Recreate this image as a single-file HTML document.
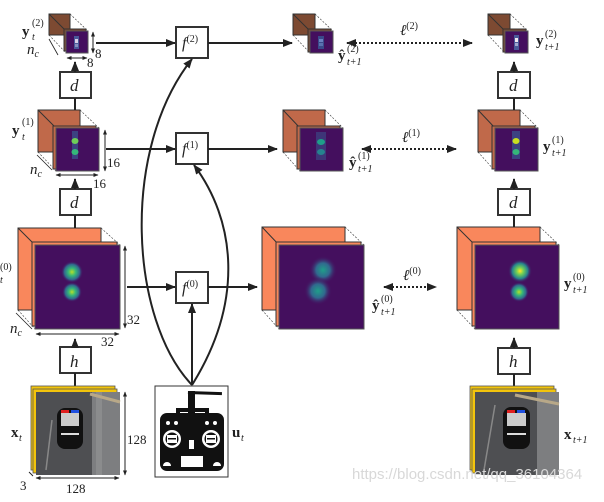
<!DOCTYPE html>
<html><head><meta charset="utf-8"><style>
html,body{margin:0;padding:0;background:#fff;}
svg{display:block;}
text{font-family:"Liberation Serif",serif;fill:#222;}
.it{font-style:italic;}
.b{font-weight:bold;}
</style></head><body>
<svg width="604" height="502" viewBox="0 0 604 502" xmlns="http://www.w3.org/2000/svg">
<defs>
<marker id="ah" viewBox="0 0 10 10" refX="9" refY="5" markerWidth="5" markerHeight="5" orient="auto-start-reverse"><path d="M0,1 L10,5 L0,9 z" fill="#222"/></marker>
<radialGradient id="g1"><stop offset="0" stop-color="#b5de2b"/><stop offset="0.35" stop-color="#35b779"/><stop offset="0.7" stop-color="#31688e"/><stop offset="1" stop-color="#440f5e" stop-opacity="0"/></radialGradient>
<radialGradient id="g2"><stop offset="0" stop-color="#1f9e89"/><stop offset="0.5" stop-color="#31688e"/><stop offset="1" stop-color="#440f5e" stop-opacity="0"/></radialGradient>
<radialGradient id="g3"><stop offset="0" stop-color="#fde725"/><stop offset="0.3" stop-color="#6ece58"/><stop offset="0.65" stop-color="#26828e"/><stop offset="1" stop-color="#440f5e" stop-opacity="0"/></radialGradient>
</defs>

<!-- ===== Level 2 cubes ===== -->
<g stroke="#333" stroke-width="1">
<rect x="49" y="14" width="21" height="21" fill="#7d4a32"/>
<line x1="49" y1="14" x2="66" y2="31"/>
<line x1="70" y1="14" x2="88" y2="31" stroke-dasharray="2,1.5" stroke-width="0.6"/>
<line x1="49" y1="35" x2="66" y2="53" stroke-dasharray="2,1.5" stroke-width="0.6"/>
<rect x="64" y="29" width="22" height="22" fill="#7d4a32"/>
<rect x="66" y="31" width="22" height="22" fill="#440f5e" stroke="#555"/>
<rect x="293" y="14" width="22" height="21" fill="#7d4a32"/>
<line x1="293" y1="14" x2="310" y2="31"/>
<line x1="315" y1="14" x2="333" y2="31" stroke-dasharray="2,1.5" stroke-width="0.6"/>
<line x1="293" y1="35" x2="310" y2="53" stroke-dasharray="2,1.5" stroke-width="0.6"/>
<rect x="308" y="29" width="23" height="23" fill="#7d4a32"/>
<rect x="310" y="31" width="23" height="22" fill="#440f5e" stroke="#555"/>
<rect x="488" y="14" width="22" height="21" fill="#7d4a32"/>
<line x1="488" y1="14" x2="505" y2="31"/>
<line x1="510" y1="14" x2="528" y2="31" stroke-dasharray="2,1.5" stroke-width="0.6"/>
<line x1="488" y1="35" x2="505" y2="53" stroke-dasharray="2,1.5" stroke-width="0.6"/>
<rect x="503" y="29" width="23" height="23" fill="#7d4a32"/>
<rect x="505" y="31" width="23" height="22" fill="#440f5e" stroke="#555"/>
</g>
<rect x="74" y="36" width="5" height="13" fill="#4a5a9a"/><rect x="75" y="39" width="3" height="4" fill="#d8d0e8"/><rect x="75" y="44" width="3" height="3" fill="#8890c0"/>
<rect x="318" y="36" width="6" height="13" fill="#3a4a8a"/><rect x="319" y="39" width="4" height="3" fill="#6a80c0"/><rect x="319" y="43" width="4" height="3" fill="#5a70b0"/>
<rect x="514" y="35" width="5" height="15" fill="#4a5a9a"/><rect x="515" y="38" width="3" height="4" fill="#f0e8f0"/><rect x="515" y="43" width="3" height="3" fill="#a0a8d0"/>

<!-- ===== Level 1 cubes ===== -->
<g stroke="#333" stroke-width="1">
<rect x="38" y="110" width="42" height="42" fill="#c0694a"/>
<line x1="38" y1="110" x2="56" y2="128"/>
<line x1="80" y1="110" x2="99" y2="128" stroke-dasharray="2,1.5" stroke-width="0.6"/>
<line x1="38" y1="152" x2="56" y2="171" stroke-dasharray="2,1.5" stroke-width="0.6"/>
<rect x="53" y="126" width="43" height="43" fill="#c0694a"/>
<rect x="56" y="128" width="43" height="43" fill="#440f5e" stroke="#555"/>
<rect x="283" y="110" width="42" height="42" fill="#c0694a"/>
<line x1="283" y1="110" x2="300" y2="128"/>
<line x1="325" y1="110" x2="343" y2="128" stroke-dasharray="2,1.5" stroke-width="0.6"/>
<line x1="283" y1="152" x2="300" y2="171" stroke-dasharray="2,1.5" stroke-width="0.6"/>
<rect x="297" y="126" width="43" height="43" fill="#c0694a"/>
<rect x="300" y="128" width="43" height="43" fill="#440f5e" stroke="#555"/>
<rect x="478" y="110" width="42" height="42" fill="#c0694a"/>
<line x1="478" y1="110" x2="495" y2="128"/>
<line x1="520" y1="110" x2="538" y2="128" stroke-dasharray="2,1.5" stroke-width="0.6"/>
<line x1="478" y1="152" x2="495" y2="171" stroke-dasharray="2,1.5" stroke-width="0.6"/>
<rect x="492" y="126" width="43" height="43" fill="#c0694a"/>
<rect x="495" y="128" width="43" height="43" fill="#440f5e" stroke="#555"/>
</g>
<rect x="72" y="131" width="6" height="28" fill="#3b4f8a" opacity="0.8"/>
<ellipse cx="75" cy="141" rx="3.5" ry="3" fill="#6ece58"/><ellipse cx="75" cy="152" rx="3.5" ry="3" fill="#35b779"/>
<rect x="316" y="132" width="10" height="28" fill="#3b4f8a" opacity="0.6"/>
<ellipse cx="321" cy="142" rx="4" ry="3" fill="#1f9e89"/><ellipse cx="321" cy="152" rx="4" ry="3" fill="#26828e"/>
<rect x="512" y="131" width="8" height="28" fill="#3b4f8a" opacity="0.8"/>
<ellipse cx="516" cy="141" rx="3.5" ry="3" fill="#c8e020"/><ellipse cx="516" cy="152" rx="3.5" ry="3" fill="#35b779"/>

<!-- ===== Level 0 cubes ===== -->
<g stroke="#333" stroke-width="1">
<rect x="18" y="228" width="83" height="82" fill="#f9875c"/>
<line x1="18" y1="228" x2="35" y2="245"/>
<line x1="101" y1="228" x2="120" y2="245" stroke-dasharray="2,1.5" stroke-width="0.6"/>
<line x1="18" y1="310" x2="35" y2="329" stroke-dasharray="2,1.5" stroke-width="0.6"/>
<rect x="32" y="242" width="85" height="84" fill="#f9875c"/>
<rect x="35" y="245" width="85" height="84" fill="#440f5e" stroke="#555"/>
<rect x="262" y="227" width="83" height="83" fill="#f9875c"/>
<line x1="262" y1="227" x2="279" y2="245"/>
<line x1="345" y1="227" x2="364" y2="245" stroke-dasharray="2,1.5" stroke-width="0.6"/>
<line x1="262" y1="310" x2="279" y2="329" stroke-dasharray="2,1.5" stroke-width="0.6"/>
<rect x="276" y="242" width="85" height="84" fill="#f9875c"/>
<rect x="279" y="245" width="85" height="84" fill="#440f5e" stroke="#555"/>
<rect x="457" y="227" width="83" height="83" fill="#f9875c"/>
<line x1="457" y1="227" x2="475" y2="245"/>
<line x1="540" y1="227" x2="559" y2="245" stroke-dasharray="2,1.5" stroke-width="0.6"/>
<line x1="457" y1="310" x2="475" y2="329" stroke-dasharray="2,1.5" stroke-width="0.6"/>
<rect x="472" y="242" width="84" height="84" fill="#f9875c"/>
<rect x="475" y="245" width="84" height="84" fill="#440f5e" stroke="#555"/>
</g>
<circle cx="72" cy="272" r="11" fill="url(#g1)"/><circle cx="72" cy="292" r="10" fill="url(#g1)"/>
<circle cx="323" cy="270" r="14" fill="url(#g2)"/><circle cx="318" cy="291" r="14" fill="url(#g2)"/>
<circle cx="520" cy="271" r="12" fill="url(#g3)"/><circle cx="519" cy="292" r="10" fill="url(#g1)"/>

<!-- ===== dimension bars ===== -->
<g stroke="#222" stroke-width="1" fill="none">
<line x1="93" y1="32" x2="93" y2="53" marker-start="url(#ah)" marker-end="url(#ah)"/>
<line x1="67" y1="58" x2="87" y2="58" marker-start="url(#ah)" marker-end="url(#ah)"/>
<line x1="49" y1="39" x2="58" y2="55" stroke-width="0.8"/>
<line x1="105" y1="130" x2="105" y2="171" marker-start="url(#ah)" marker-end="url(#ah)"/>
<line x1="56" y1="175" x2="98" y2="175" marker-start="url(#ah)" marker-end="url(#ah)"/>
<line x1="37" y1="155" x2="52" y2="170" stroke-width="0.8"/>
<line x1="125" y1="246" x2="125" y2="328" marker-start="url(#ah)" marker-end="url(#ah)"/>
<line x1="36" y1="334" x2="119" y2="334" marker-start="url(#ah)" marker-end="url(#ah)"/>
<line x1="16" y1="313" x2="32" y2="329" stroke-width="0.8"/>
<line x1="125" y1="392" x2="125" y2="475" marker-start="url(#ah)" marker-end="url(#ah)"/>
<line x1="36" y1="478" x2="119" y2="478" marker-start="url(#ah)" marker-end="url(#ah)"/>
<line x1="29" y1="472" x2="33" y2="476"/>
</g>
<g font-size="13">
<text x="95" y="58">8</text><text x="87" y="67">8</text>
<text x="107" y="167">16</text><text x="93" y="188">16</text>
<text x="127" y="324">32</text><text x="101" y="346">32</text>
<text x="127" y="444">128</text><text x="66" y="493">128</text>
<text x="20" y="490">3</text>
<text class="it" x="27" y="54" font-size="15">n<tspan font-size="10" dy="3">c</tspan></text>
<text class="it" x="30" y="174" font-size="15">n<tspan font-size="10" dy="3">c</tspan></text>
<text class="it" x="10" y="333" font-size="15">n<tspan font-size="10" dy="3">c</tspan></text>
</g>

<!-- ===== function boxes ===== -->
<g fill="#fff" stroke="#333" stroke-width="2">
<rect x="176" y="27" width="32" height="31"/>
<rect x="176" y="133" width="32" height="31"/>
<rect x="176" y="272" width="32" height="31"/>
<rect x="60" y="72" width="31" height="26"/>
<rect x="60" y="189" width="31" height="26"/>
<rect x="60" y="347" width="31" height="26"/>
<rect x="498" y="72" width="32" height="26"/>
<rect x="498" y="189" width="32" height="26"/>
<rect x="498" y="348" width="32" height="26"/>
</g>
<g class="it" font-size="16">
<text x="182" y="48">f<tspan font-size="10" dy="-6" font-style="normal">(2)</tspan></text>
<text x="182" y="154">f<tspan font-size="10" dy="-6" font-style="normal">(1)</tspan></text>
<text x="182" y="293">f<tspan font-size="10" dy="-6" font-style="normal">(0)</tspan></text>
<text class="it" x="70" y="91" font-size="17">d</text>
<text class="it" x="70" y="208" font-size="17">d</text>
<text class="it" x="70" y="367" font-size="17">h</text>
<text class="it" x="509" y="91" font-size="17">d</text>
<text class="it" x="509" y="208" font-size="17">d</text>
<text class="it" x="509" y="367" font-size="17">h</text>
</g>

<!-- ===== arrows ===== -->
<g stroke="#222" stroke-width="2" fill="none">
<line x1="96" y1="43" x2="175" y2="43" marker-end="url(#ah)"/>
<line x1="208" y1="43" x2="292" y2="43" marker-end="url(#ah)"/>
<line x1="106" y1="149" x2="175" y2="149" marker-end="url(#ah)"/>
<line x1="208" y1="149" x2="277" y2="149" marker-end="url(#ah)"/>
<line x1="127" y1="287" x2="175" y2="287" marker-end="url(#ah)"/>
<line x1="208" y1="287" x2="257" y2="287" marker-end="url(#ah)"/>
<line x1="75" y1="72" x2="75" y2="62" marker-end="url(#ah)"/>
<line x1="75" y1="110" x2="75" y2="98"/>
<line x1="75" y1="189" x2="75" y2="179" marker-end="url(#ah)"/>
<line x1="75" y1="228" x2="75" y2="215"/>
<line x1="75" y1="347" x2="75" y2="339" marker-end="url(#ah)"/>
<line x1="75" y1="386" x2="75" y2="373"/>
<line x1="514" y1="72" x2="514" y2="62" marker-end="url(#ah)"/>
<line x1="514" y1="110" x2="514" y2="98"/>
<line x1="514" y1="189" x2="514" y2="179" marker-end="url(#ah)"/>
<line x1="514" y1="227" x2="514" y2="215"/>
<line x1="514" y1="348" x2="514" y2="338" marker-end="url(#ah)"/>
<line x1="514" y1="386" x2="514" y2="374"/>
<line x1="192" y1="385" x2="192" y2="304" marker-end="url(#ah)"/>
<path d="M192,385 C130,320 120,150 192,59" marker-end="url(#ah)"/>
<path d="M192,385 C245,300 235,220 194,165" marker-end="url(#ah)"/>
</g>
<g stroke="#222" stroke-width="2" stroke-dasharray="2,2" fill="none">
<line x1="347" y1="43" x2="472" y2="43" marker-start="url(#ah)" marker-end="url(#ah)"/>
<line x1="362" y1="149" x2="456" y2="149" marker-start="url(#ah)" marker-end="url(#ah)"/>
<line x1="384" y1="287" x2="436" y2="287" marker-start="url(#ah)" marker-end="url(#ah)"/>
</g>
<g font-size="15">
<text class="it" x="400" y="35">ℓ<tspan font-style="normal" font-size="10" dy="-6">(2)</tspan></text>
<text class="it" x="402" y="142">ℓ<tspan font-style="normal" font-size="10" dy="-6">(1)</tspan></text>
<text class="it" x="403" y="280">ℓ<tspan font-style="normal" font-size="10" dy="-6">(0)</tspan></text>
</g>

<!-- ===== labels ===== -->
<g font-size="15">
<text x="22" y="36"><tspan class="b">y</tspan></text><text x="32" y="26" font-size="10">(2)</text><text class="it" x="32" y="40" font-size="10">t</text>
<text x="12" y="135"><tspan class="b">y</tspan></text><text x="22" y="125" font-size="10">(1)</text><text class="it" x="22" y="140" font-size="10">t</text>
<text x="0" y="270" font-size="10">(0)</text><text class="it" x="0" y="283" font-size="10">t</text>
<text x="11" y="437" class="b">x</text><text class="it" x="19" y="441" font-size="10">t</text>
<text x="232" y="437" class="b">u</text><text class="it" x="241" y="441" font-size="10">t</text>
<text x="338" y="60" class="b">ŷ</text><text x="347" y="52" font-size="10">(2)</text><text class="it" x="347" y="65" font-size="10">t+1</text>
<text x="349" y="167" class="b">ŷ</text><text x="358" y="159" font-size="10">(1)</text><text class="it" x="358" y="172" font-size="10">t+1</text>
<text x="372" y="310" class="b">ŷ</text><text x="381" y="302" font-size="10">(0)</text><text class="it" x="381" y="315" font-size="10">t+1</text>
<text x="536" y="45" class="b">y</text><text x="545" y="37" font-size="10">(2)</text><text class="it" x="545" y="50" font-size="10">t+1</text>
<text x="543" y="151" class="b">y</text><text x="552" y="143" font-size="10">(1)</text><text class="it" x="552" y="156" font-size="10">t+1</text>
<text x="564" y="288" class="b">y</text><text x="573" y="280" font-size="10">(0)</text><text class="it" x="573" y="293" font-size="10">t+1</text>
<text x="564" y="439" class="b">x</text><text class="it" x="573" y="443" font-size="10">t+1</text>
</g>

<!-- ===== images ===== -->
<g>
<rect x="31" y="386" width="84" height="84" fill="#f2c40c" stroke="#555" stroke-width="0.8"/>
<rect x="33" y="389" width="84" height="84" fill="#f2c40c" stroke="#555" stroke-width="0.8"/>
<rect x="36" y="392" width="84" height="83" fill="#4e4f52"/>
<rect x="92" y="392" width="28" height="83" fill="#7d7e80"/>
<rect x="96" y="392" width="6" height="83" fill="#9a9a9a" opacity="0.5"/>
<line x1="90" y1="394" x2="120" y2="402" stroke="#b8a888" stroke-width="3"/>
<line x1="52" y1="420" x2="46" y2="470" stroke="#888" stroke-width="1.5"/>
<rect x="57" y="408" width="26" height="41" rx="8" fill="#111"/>
<rect x="61" y="413" width="18" height="13" fill="#ccc"/>
<rect x="61" y="410" width="8" height="3" fill="#e02020"/><rect x="71" y="410" width="8" height="3" fill="#2050e0"/>
<rect x="61" y="433" width="18" height="2" fill="#ddd"/>
<rect x="470" y="386" width="84" height="84" fill="#f2c40c" stroke="#555" stroke-width="0.8"/>
<rect x="472" y="389" width="84" height="84" fill="#f2c40c" stroke="#555" stroke-width="0.8"/>
<rect x="475" y="392" width="84" height="83" fill="#4e4f52"/>
<rect x="537" y="392" width="22" height="83" fill="#7d7e80"/>
<line x1="515" y1="395" x2="559" y2="404" stroke="#b8a888" stroke-width="3"/>
<line x1="495" y1="405" x2="484" y2="470" stroke="#888" stroke-width="1.5"/>
<rect x="503" y="407" width="27" height="42" rx="8" fill="#111"/>
<rect x="507" y="413" width="19" height="13" fill="#ccc"/>
<rect x="507" y="410" width="8" height="3" fill="#e02020"/><rect x="517" y="410" width="8" height="3" fill="#2050e0"/>
<rect x="507" y="433" width="19" height="2" fill="#ddd"/>
</g>

<!-- ===== remote ===== -->
<rect x="155" y="386" width="73" height="91" fill="#fff" stroke="#333" stroke-width="1"/>
<g fill="#111">
<rect x="188" y="391" width="34" height="3" transform="rotate(2 188 391)"/>
<rect x="188" y="391" width="7" height="22"/>
<path d="M176,408 h33 v6 h-4 v-2 h-25 v2 h-4 z"/>
<rect x="160" y="413" width="64" height="58" rx="7"/>
</g>
<g fill="#fff">
<circle cx="172" cy="439" r="9"/><circle cx="211" cy="439" r="9"/>
<circle cx="168" cy="423" r="2"/><circle cx="176" cy="423" r="2"/>
<circle cx="207" cy="423" r="2"/><circle cx="215" cy="423" r="2"/>
<rect x="181" y="456" width="22" height="11"/>
<rect x="189" y="440" width="5" height="9"/>
<path d="M163,466 a4,4 0 0 1 8,0 z"/><path d="M213,466 a4,4 0 0 1 8,0 z"/>
</g>
<g fill="#111"><circle cx="172" cy="439" r="6.5"/><circle cx="211" cy="439" r="6.5"/></g>
<g fill="#fff"><rect x="167" y="435" width="10" height="8"/><rect x="206" y="435" width="10" height="8"/></g>
<g fill="#111"><rect x="168" y="438" width="8" height="1.5"/><rect x="207" y="438" width="8" height="1.5"/></g>

<!-- watermark -->
<text x="352" y="479" font-size="15" style="font-family:'Liberation Sans',sans-serif;fill:#d8d8d8">https://blog.csdn.net/qq_36104364</text>
</svg>
</body></html>
